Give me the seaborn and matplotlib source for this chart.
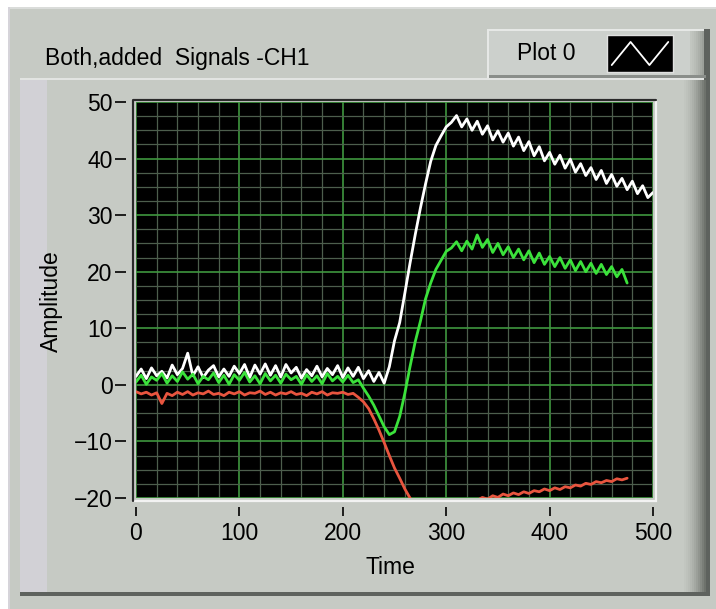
import numpy as np
import pandas as pd
import matplotlib
matplotlib.use("Agg")
import matplotlib.pyplot as plt
from matplotlib.patches import Rectangle
from matplotlib.ticker import MultipleLocator
import seaborn as sns

# ---------------- data ----------------
time_white = list(range(0, 505, 5))
white = [1.5, 2.8, 1.1, 3.0, 1.6, 2.4, 1.2, 3.5, 1.8, 2.9,
         5.6, 1.6, 3.2, 1.3, 2.6, 3.4, 1.4, 2.8, 1.5, 3.3,
         2.0, 3.6, 1.3, 3.5, 1.9, 3.7, 1.7, 3.4, 1.4, 3.6,
         2.1, 3.1, 1.2, 2.7, 1.6, 3.3, 1.4, 2.9, 1.8, 3.4,
         1.3, 3.0, 1.5, 3.1, 1.1, 2.5, 0.6, 2.2, 0.3, 3.2,
         7.8, 11.0, 16.2, 21.5, 26.5, 31.2, 35.5, 39.5, 42.3, 44.0,
         45.6, 46.4, 47.6, 45.6, 47.0, 45.0, 46.6, 44.3, 45.8, 43.3,
         44.9, 42.9, 44.5, 42.2, 43.8, 41.4, 43.0, 40.5, 42.1, 39.6,
         41.1, 39.0, 40.6, 38.3, 39.9, 37.6, 39.1, 37.0, 38.4, 36.3,
         37.9, 35.6, 37.2, 35.1, 36.5, 34.5, 36.0, 33.8, 35.2, 33.1,
         34.0]

time_other = list(range(0, 480, 5))
green = [0.5, 1.7, 0.1, 1.4, 0.8, 2.0, 0.3, 1.6, 0.6, 2.3,
         1.0, 1.9, 0.2, 1.5, 0.9, 2.1, 0.4, 1.7, 0.1, 1.8,
         0.8, 2.2, 0.5, 1.6, 0.2, 2.0, 0.7, 1.7, 0.3, 1.9,
         0.9, 1.5, 0.1, 1.8, 0.6, 1.6, 0.2, 2.0, 0.7, 1.5,
         0.5, 1.7, 0.4, 0.9, -0.6, -2.0, -3.6, -5.5, -7.4, -8.8,
         -8.3, -5.6, -1.5, 3.2, 7.6, 11.2, 15.2, 18.0, 20.4, 22.0,
         23.6, 24.2, 25.3, 23.7, 25.4, 24.0, 26.5, 24.3, 25.7, 23.4,
         25.0, 23.0, 24.4, 22.5, 24.0, 22.1, 23.7, 21.6, 23.3, 21.3,
         22.7, 20.9, 22.5, 20.6, 22.1, 20.2, 21.8, 20.0, 21.5, 19.7,
         21.3, 19.5, 20.9, 19.1, 20.4, 18.0]
red = [-1.2, -1.6, -1.3, -1.8, -1.4, -3.3, -1.5, -1.9, -1.3, -1.7,
       -1.2, -1.8, -1.4, -1.6, -1.1, -1.7, -1.5, -1.9, -1.3, -1.6,
       -1.2, -1.8, -1.4, -1.5, -1.1, -1.7, -1.3, -1.8, -1.4, -1.6,
       -1.2, -1.7, -1.5, -1.9, -1.3, -1.6, -1.2, -1.8, -1.4, -1.5,
       -1.3, -1.7, -1.5, -2.2, -3.0, -4.2, -6.0, -8.0, -10.2, -12.5,
       -14.7, -16.5, -18.4, -20.0, -21.2, -22.0, -22.6, -23.0, -23.2, -23.0,
       -22.6, -22.2, -21.8, -21.4, -21.0, -20.7, -20.4, -19.9, -20.2, -19.6,
       -19.9, -19.3, -19.6, -19.1, -19.4, -18.9, -19.2, -18.7, -18.9, -18.4,
       -18.7, -18.2, -18.5, -18.0, -18.2, -17.7, -17.9, -17.4, -17.6, -17.1,
       -17.3, -16.9, -17.1, -16.6, -16.8, -16.5]

x_ticks = [0, 100, 200, 300, 400, 500]
y_ticks = [-20, -10, 0, 10, 20, 30, 40, 50]
title = "Both,added  Signals -CH1"
legend_label = "Plot 0"
x_label = "Time"
y_label = "Amplitude"

series_colors = {"white": "#ffffff", "red": "#e8553f", "green": "#3be23b"}

df = pd.concat([
    pd.DataFrame({"Time": time_white, "Amplitude": white, "sig": "white"}),
    pd.DataFrame({"Time": time_other, "Amplitude": red, "sig": "red"}),
    pd.DataFrame({"Time": time_other, "Amplitude": green, "sig": "green"}),
], ignore_index=True)

# ---------------- figure ----------------
sns.set_style("white")
plt.rcParams["font.family"] = ["Liberation Sans", "DejaVu Sans"]

W, H = 716, 609
fig = plt.figure(figsize=(W / 100, H / 100), dpi=100, facecolor="white")


def rect(x0, y0, x1, y1, color, z=0):
    fig.add_artist(Rectangle((x0 / W, 1 - y1 / H), (x1 - x0) / W, (y1 - y0) / H,
                             transform=fig.transFigure, facecolor=color,
                             edgecolor="none", zorder=z))


GRAY = "#c6cac4"
# outer frame
rect(8, 7, 716, 609, GRAY, -10)
rect(8, 7, 716, 9, "#dadcda", -9)
rect(8, 7, 10, 609, "#d6d4da", -9)
# inner raised panel
rect(20, 78, 708, 594, GRAY, -8)
rect(20, 78, 47, 594, "#d2d1d6", -7)
rect(20, 78, 708, 80, "#e2e4e2", -7)
shade = ["#c2c6c0", "#bec2bc", "#b9bdb7", "#b3b7b1", "#acb0aa", "#a4a8a2",
         "#9b9f99", "#91958f", "#868a84", "#7a7e78", "#6e726c", "#62665f"]
for i, c in enumerate(shade):
    rect(684 + 2 * i, 80, 686 + 2 * i, 594, c, -7)
rect(706, 80, 710, 594, "#5e625e", -6)
rect(20, 592, 710, 596, "#5e625e", -6)
# legend box
rect(487, 29, 706, 78, "#ccd0cc", -5)
rect(487, 29, 706, 31, "#e6e8e6", -4)
rect(487, 29, 489, 78, "#e6e8e6", -4)
for i, c in enumerate(shade[:8]):
    rect(690 + 2 * i, 31, 692 + 2 * i, 76, c, -4)
rect(704, 29, 710, 80, "#5e625e", -4)
rect(489, 75, 706, 78, "#8a8e8a", -4)

# ---------------- main axes ----------------
ax = fig.add_axes([136 / W, 1 - 498 / H, (653 - 136) / W, (498 - 102) / H])
ax.set_facecolor("black")
sns.lineplot(data=df, x="Time", y="Amplitude", hue="sig",
             hue_order=["white", "red", "green"], palette=series_colors,
             legend=False, linewidth=2.0, ax=ax, estimator=None, sort=False)

ax.set_xlim(0, 500)
ax.set_ylim(-20, 50)
ax.set_xticks(x_ticks)
ax.set_yticks(y_ticks)
ax.xaxis.set_minor_locator(MultipleLocator(20))
ax.yaxis.set_minor_locator(MultipleLocator(2.5))
ax.set_axisbelow(True)
ax.grid(which="minor", color="#4d5e4d", linewidth=0.9)
ax.grid(which="major", color="#3f973f", linewidth=1.2)
for s in ax.spines.values():
    s.set_visible(False)
ax.spines["bottom"].set_position(("outward", 6.5))
ax.spines["left"].set_position(("outward", 7))
ax.tick_params(axis="x", which="major", direction="out", length=6.5, width=1.2,
               color="black", pad=4, labelsize=16.5, labelcolor="black",
               bottom=True)
ax.tick_params(axis="y", which="major", direction="out", length=8, width=1.2,
               color="black", pad=2, labelsize=16.5, labelcolor="black",
               left=True)
ax.tick_params(which="minor", length=0)
ax.set_xlabel("")
ax.set_ylabel("")

# bevel frame around the plotting area
ax.add_artist(Rectangle((-0.006, -0.008), 1.012, 1.012, transform=ax.transAxes,
                        fill=False, edgecolor="#f2f2f2", linewidth=1.6,
                        clip_on=False, zorder=5))
ax.plot([-0.006, -0.006, 1.006], [-0.008, 1.004, 1.004], transform=ax.transAxes,
        color="#2a2a2a", linewidth=1.6, clip_on=False, zorder=6)

fig.text(390 / W, 1 - 567 / H, x_label, ha="center", va="center",
         fontsize=16.5, color="black")
fig.text(51 / W, 1 - 301 / H, y_label, ha="center", va="center",
         rotation=90, fontsize=16.5, color="black")
fig.text(45 / W, 1 - 58 / H, title, ha="left", va="center",
         fontsize=16.5, color="black")
fig.text(517 / W, 1 - 53 / H, legend_label, ha="left", va="center",
         fontsize=16.5, color="black")

# legend swatch
sw = fig.add_axes([607 / W, 1 - 72 / H, (673 - 607) / W, (72 - 35) / H])
sw.set_facecolor("black")
sw.plot([0, 1, 2, 3], [0, 1, 0, 1], color="white", linewidth=1.3)
sw.set_xlim(-0.25, 3.25)
sw.set_ylim(-0.3, 1.3)
sw.set_xticks([])
sw.set_yticks([])
for s in sw.spines.values():
    s.set_color("#e0e0e0")
    s.set_linewidth(1.0)

fig.savefig("out.png", dpi=100, facecolor="white")
